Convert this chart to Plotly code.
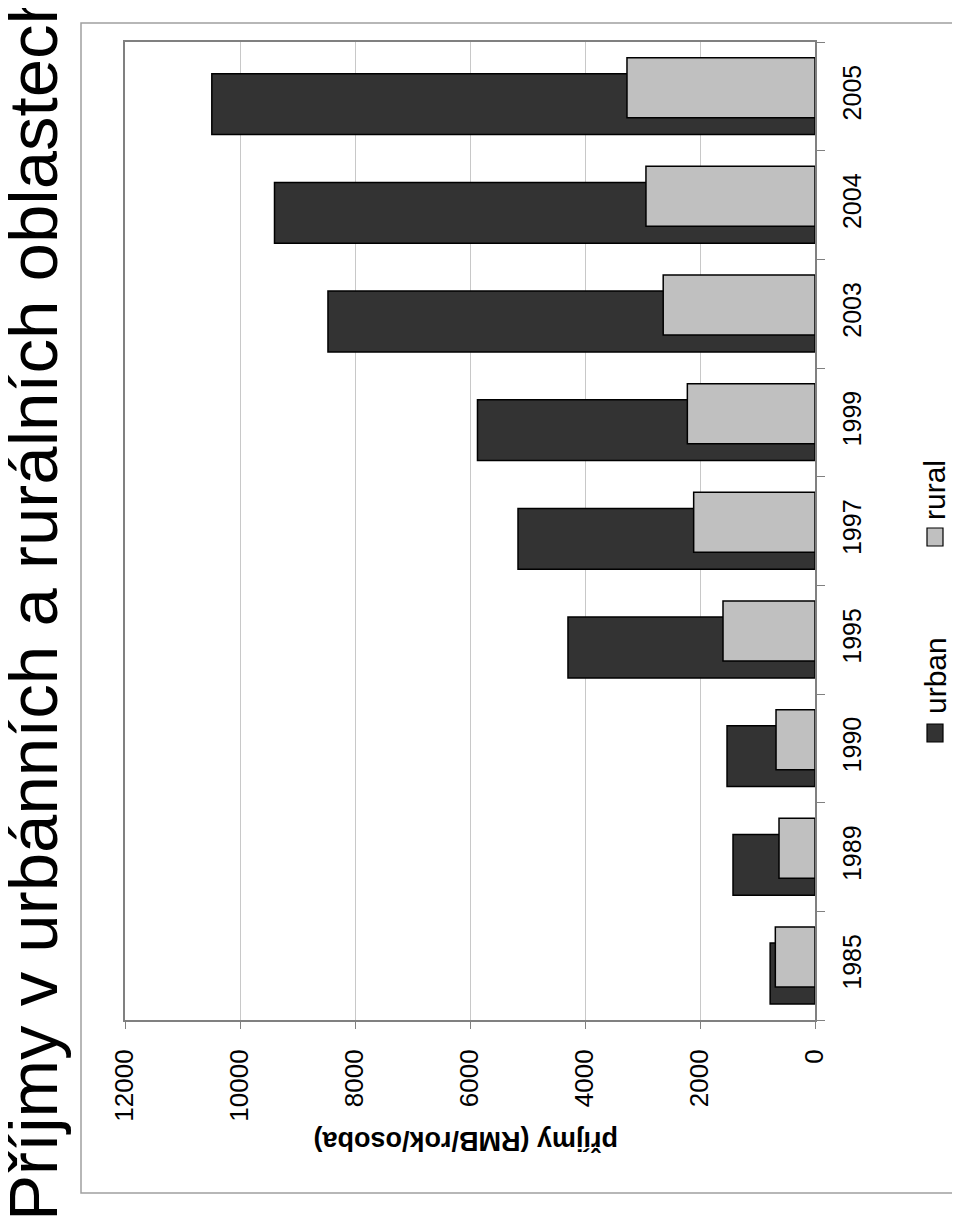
import plotly.graph_objects as go

years = ["1985", "1989", "1990", "1995", "1997", "1999", "2003", "2004", "2005"]
urban = [780, 1426, 1530, 4296, 5165, 5870, 8470, 9400, 10490]
rural = [690, 626, 678, 1600, 2110, 2220, 2640, 2940, 3270]
value_ticks = [0, 2000, 4000, 6000, 8000, 10000, 12000]

title_text = "Příjmy v urbánních a rurálních oblastech"
axis_title = "příjmy (RMB/rok/osoba)"
series_names = ["urban", "rural"]

W, H = 960, 1225
OFF = 8  # page body margin
# plot area in screen pixels: x 125..815, y 42..1020
L = 125 - OFF
T = 42 - OFF
R = W - (815 - OFF)
B = H - (1020 - OFF)
PW, PH = W - L - R, H - T - B
FONT = "Liberation Sans, Arial, sans-serif"


def px(x):
    return (x - OFF - L) / PW


def py(y):
    return (H - B - (y - OFF)) / PH


fig = go.Figure()
fig.add_trace(go.Bar(
    y=years, x=urban, orientation="h", name=series_names[0],
    width=0.56, offset=-0.352,
    marker=dict(color="#333333", line=dict(color="#000000", width=1.5)),
))
fig.add_trace(go.Bar(
    y=years, x=rural, orientation="h", name=series_names[1],
    width=0.552, offset=-0.196,
    marker=dict(color="#c0c0c0", line=dict(color="#000000", width=1.5)),
))

shapes = [
    dict(type="rect", xref="paper", yref="paper", x0=px(81), x1=px(957), y0=py(1193), y1=py(23),
         line=dict(color="#a0a0a0", width=1.5), layer="below"),
    dict(type="rect", xref="paper", yref="paper", x0=px(927), x1=px(943), y0=py(742), y1=py(724),
         fillcolor="#333333", line=dict(color="#000000", width=1.2)),
    dict(type="rect", xref="paper", yref="paper", x0=px(927), x1=px(943), y0=py(546), y1=py(528),
         fillcolor="#c0c0c0", line=dict(color="#000000", width=1.2)),
]

annotations = [
    dict(text=title_text, xref="paper", yref="paper", x=px(34), y=py(604),
         xanchor="center", yanchor="middle", textangle=-90, showarrow=False,
         font=dict(family=FONT, size=69, color="#000000")),
    dict(text="<b>" + axis_title + "</b>", xref="paper", yref="paper", x=px(466), y=py(1141),
         xanchor="center", yanchor="middle", textangle=180, showarrow=False,
         font=dict(family=FONT, size=27, color="#000000")),
    dict(text=series_names[0], xref="paper", yref="paper", x=px(935), y=py(676),
         xanchor="center", yanchor="middle", textangle=-90, showarrow=False,
         font=dict(family=FONT, size=30, color="#000000")),
    dict(text=series_names[1], xref="paper", yref="paper", x=px(935), y=py(490),
         xanchor="center", yanchor="middle", textangle=-90, showarrow=False,
         font=dict(family=FONT, size=30, color="#000000")),
]

fig.update_layout(
    width=W, height=H,
    margin=dict(l=L, r=R, t=T, b=B, pad=0),
    paper_bgcolor="#ffffff", plot_bgcolor="#ffffff",
    barmode="overlay", showlegend=False,
    font=dict(family=FONT, color="#000000"),
    shapes=shapes, annotations=annotations,
    xaxis=dict(
        range=[12000, 0], tickvals=value_ticks, ticktext=[str(v) for v in value_ticks],
        showgrid=True, gridcolor="#c8c8c8", gridwidth=1,
        showline=True, linecolor="#808080", linewidth=2, mirror=True,
        ticks="outside", ticklen=7, tickcolor="#808080", tickwidth=1,
        tickangle=-90, tickfont=dict(family=FONT, size=26, color="#000000"),
        ticklabelstandoff=10, zeroline=False,
    ),
    yaxis=dict(
        type="category", categoryorder="array", categoryarray=years,
        side="right", tickson="boundaries",
        showline=True, linecolor="#808080", linewidth=2, mirror=True,
        ticks="outside", ticklen=8, tickcolor="#808080", tickwidth=1,
        tickangle=-90, tickfont=dict(family=FONT, size=25, color="#000000"),
        ticklabelstandoff=14, showgrid=False, range=[-0.5, len(years) - 0.5],
    ),
)

fig.write_html("out.html")
